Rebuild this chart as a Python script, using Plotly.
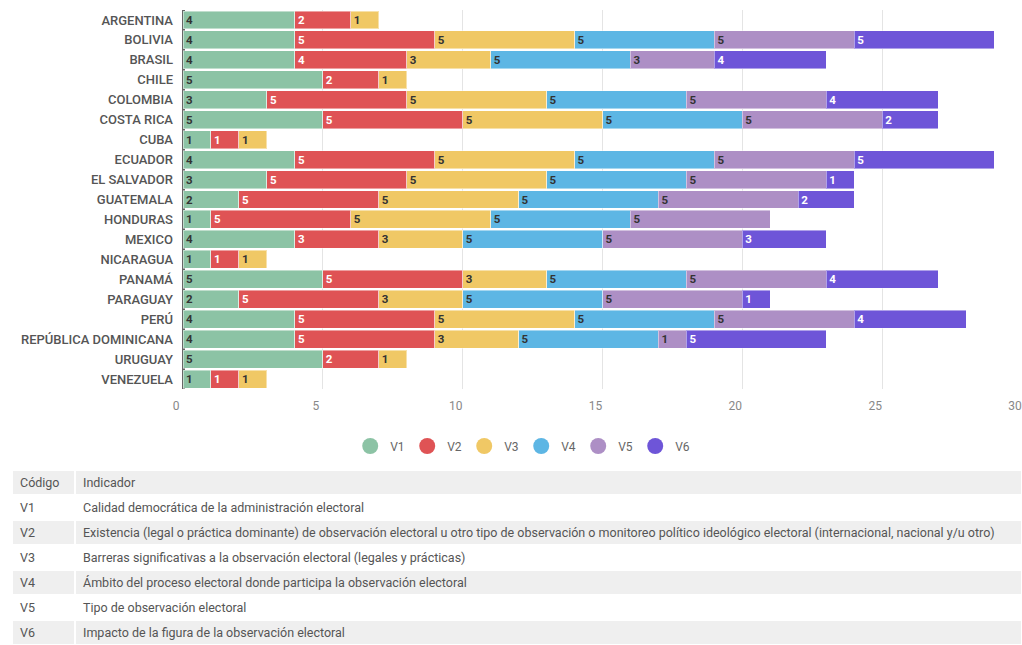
import plotly.graph_objects as go

paises = ["ARGENTINA", "BOLIVIA", "BRASIL", "CHILE", "COLOMBIA", "COSTA RICA", "CUBA",
          "ECUADOR", "EL SALVADOR", "GUATEMALA", "HONDURAS", "MEXICO", "NICARAGUA",
          "PANAMÁ", "PARAGUAY", "PERÚ", "REPÚBLICA DOMINICANA", "URUGUAY", "VENEZUELA"]

v1 = [4, 4, 4, 5, 3, 5, 1, 4, 3, 2, 1, 4, 1, 5, 2, 4, 4, 5, 1]
v2 = [2, 5, 4, 2, 5, 5, 1, 5, 5, 5, 5, 3, 1, 5, 5, 5, 5, 2, 1]
v3 = [1, 5, 3, 1, 5, 5, 1, 5, 5, 5, 5, 3, 1, 3, 3, 5, 3, 1, 1]
v4 = [None, 5, 5, None, 5, 5, None, 5, 5, 5, 5, 5, None, 5, 5, 5, 5, None, None]
v5 = [None, 5, 3, None, 5, 5, None, 5, 5, 5, 5, 5, None, 5, 5, 5, 1, None, None]
v6 = [None, 5, 4, None, 4, 2, None, 5, 1, 2, None, 3, None, 4, 1, 4, 5, None, None]

series_names = ["V1", "V2", "V3", "V4", "V5", "V6"]
series_values = [v1, v2, v3, v4, v5, v6]
colores = ["#8cc3a5", "#df5355", "#f0c865", "#5db6e4", "#ad8fc5", "#6e55d8"]
colores_texto = ["#333333", "#ffffff", "#333333", "#333333", "#333333", "#ffffff"]

x_ticks = [0, 5, 10, 15, 20, 25, 30]

codigos = ["V1", "V2", "V3", "V4", "V5", "V6"]
indicadores = [
    "Calidad democrática de la administración electoral",
    "Existencia (legal o práctica dominante) de observación electoral u otro tipo de observación o monitoreo político ideológico electoral (internacional, nacional y/u otro)",
    "Barreras significativas a la observación electoral (legales y prácticas)",
    "Ámbito del proceso electoral donde participa la observación electoral",
    "Tipo de observación electoral",
    "Impacto de la figura de la observación electoral",
]
encabezado = ["Código", "Indicador"]

fig = go.Figure()

for name, vals, col, tcol in zip(series_names, series_values, colores, colores_texto):
    fig.add_trace(go.Bar(
        y=paises, x=vals, name=name, orientation="h",
        marker=dict(color=col, line=dict(color="rgba(255,255,255,0.45)", width=1)),
        text=[("" if v is None else str(v)) for v in vals],
        textposition="inside", insidetextanchor="start", textangle=0,
        textfont=dict(family="Roboto", size=11.5, color=tcol, weight="bold"),
        showlegend=False, hoverinfo="x+y+name",
    ))
    fig.add_trace(go.Scatter(
        x=[None], y=[None], mode="markers", name=name,
        marker=dict(color=col, size=17, symbol="circle"),
        showlegend=True, hoverinfo="skip",
    ))

fig.add_trace(go.Table(
    domain=dict(x=[12 / 1022, 1], y=[0, 0.2756]),
    columnwidth=[63, 947],
    header=dict(values=encabezado, fill_color="#efefef", align="left",
                line=dict(color="white", width=2), height=25,
                font=dict(family="Roboto", size=12.5, color="#555555")),
    cells=dict(values=[codigos, indicadores],
               fill_color=[["white", "#efefef"] * 3],
               align="left", line=dict(color="white", width=2), height=25,
               font=dict(family="Roboto", size=12.5, color="#555555")),
))

fig.update_layout(
    width=1022, height=645,
    margin=dict(l=0, r=0, t=10, b=0, autoexpand=False),
    barmode="stack", bargap=0.1,
    plot_bgcolor="white", paper_bgcolor="white",
    font=dict(family="Roboto", color="#555555"),
    uniformtext=dict(minsize=10, mode="show"),
    legend=dict(orientation="h", x=0.51, xanchor="center", y=0.3134, yanchor="middle",
                traceorder="normal",
                font=dict(family="Roboto", size=12, color="#666666"),
                itemwidth=30, entrywidth=12, entrywidthmode="pixels"),
    xaxis=dict(domain=[183 / 1022, 1], range=[0, 30], tickvals=x_ticks, automargin=False,
               showgrid=True, gridcolor="#e4e4e4", gridwidth=1,
               zeroline=True, zerolinecolor="#666666", zerolinewidth=2.5,
               ticks="", ticklabelshift=-7, ticklabelstandoff=8,
               tickfont=dict(family="Roboto", size=12, color="#888888"), fixedrange=True),
    yaxis=dict(domain=[0.4031, 1], autorange="reversed", ticks="", automargin=False,
               ticklabelstandoff=9, showgrid=False,
               tickfont=dict(family="Roboto", size=13, color="#555555", weight=500),
               fixedrange=True),
)

fig.write_html(
    "out.html",
    config={"displayModeBar": False},
    post_script="document.body.style.margin='0px';document.body.style.overflow='hidden';",
)
